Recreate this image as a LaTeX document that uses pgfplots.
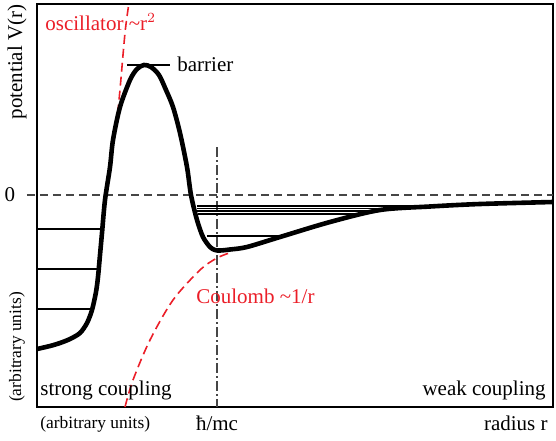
\documentclass[border=0pt]{standalone}
\usepackage{pgfplots}
\pgfplotsset{compat=1.18}
\usepackage{fontspec}
\setmainfont{Liberation Serif}
\definecolor{myred}{RGB}{235,30,40}
\definecolor{mygray}{RGB}{70,70,70}
\begin{document}
\begin{tikzpicture}
\begin{axis}[
  scale only axis, width=258pt, height=201.5pt,
  xmin=37, xmax=553, ymin=33, ymax=436,
  xtick=\empty, ytick=\empty, clip=false,
  axis line style={black, line width=0.6pt},
]
% bounding box
\path (axis cs:0,0) rectangle (axis cs:556,440);
% zero line
\addplot[mygray, line width=0.6pt, dash pattern=on 4pt off 2.5pt] coordinates {(27,245) (553,245)};
% hbar/mc line
\addplot[mygray, line width=0.6pt, dash pattern=on 5pt off 1.5pt on 1pt off 1.5pt] coordinates {(217,293) (217,33)};
% oscillator
\addplot[myred, line width=0.8pt, dash pattern=on 4.5pt off 2.5pt, smooth] coordinates {(111,285) (118,330) (125,407) (129,437)};
% coulomb
\addplot[myred, line width=0.8pt, dash pattern=on 4.5pt off 2.5pt, smooth] coordinates {(125,33) (133,60) (150,100) (173,140) (200,170) (217,182) (232,188)};
% levels left
\addplot[black, line width=0.8pt] coordinates {(37,211) (102.5,211)};
\addplot[black, line width=0.8pt] coordinates {(37,171) (98.7,171)};
\addplot[black, line width=0.8pt] coordinates {(37,131) (92,131)};
% levels right
\addplot[black, line width=0.8pt] coordinates {(197,234.3) (452,234.3)};
\addplot[black, line width=0.8pt] coordinates {(197,231.7) (408,231.7)};
\addplot[black, line width=0.8pt] coordinates {(197,229.3) (377,229.3)};
\addplot[black, line width=0.8pt] coordinates {(198,226) (363,226)};
\addplot[black, line width=0.8pt] coordinates {(207,204.3) (284,204.3)};
% barrier line
\addplot[black, line width=0.7pt] coordinates {(127,375) (170,375)};
% potential
\addplot[black, line width=2.3pt, smooth, tension=0.5] coordinates {
(37,91) (50,94) (60,97) (70,101) (80,107) (87,117) (92,130) (96,148) (98,163) (100,185) (102,207) (105,240) (110,273) (113,300) (120,333) (130,360) (137,371) (144,375) (151,373) (159,365) (166,350) (173,333) (180,307) (187,273) (191,245) (197,220) (203,203) (210,193) (215,190) (220,189.5) (230,190.5) (247,193) (280,203) (330,218) (380,230) (430,233.5) (480,236) (553,238)};
% labels
\node[anchor=west, text=myred, font=\fontsize{10.5}{12}\selectfont, inner sep=0pt] at (axis cs:45,418) {oscillator \textasciitilde r$^2$};
\node[anchor=west, font=\fontsize{10.5}{12}\selectfont, inner sep=0pt] at (axis cs:177,376) {barrier};
\node[anchor=west, text=myred, font=\fontsize{10.5}{12}\selectfont, inner sep=0pt] at (axis cs:196,144) {Coulomb \textasciitilde 1/r};
\node[rotate=90, font=\fontsize{10.5}{12}\selectfont, inner sep=0pt] at (axis cs:17,378) {potential V(r)};
\node[rotate=90, font=\fontsize{8.7}{10}\selectfont, inner sep=0pt] at (axis cs:17,93) {(arbitrary units)};
\node[font=\fontsize{10.5}{12}\selectfont, inner sep=0pt] at (axis cs:10,245) {0};
\node[anchor=west, font=\fontsize{10.5}{12}\selectfont, inner sep=0pt] at (axis cs:40,50) {strong coupling};
\node[anchor=east, font=\fontsize{10.5}{12}\selectfont, inner sep=0pt] at (axis cs:546,50) {weak coupling};
\node[anchor=west, font=\fontsize{8.7}{10}\selectfont, inner sep=0pt] at (axis cs:40,16) {(arbitrary units)};
\node[font=\fontsize{10.5}{12}\selectfont, inner sep=0pt] at (axis cs:217,17) {ħ/mc};
\node[anchor=east, font=\fontsize{10.5}{12}\selectfont, inner sep=0pt] at (axis cs:548,17) {radius r};
\end{axis}
\end{tikzpicture}
\end{document}
